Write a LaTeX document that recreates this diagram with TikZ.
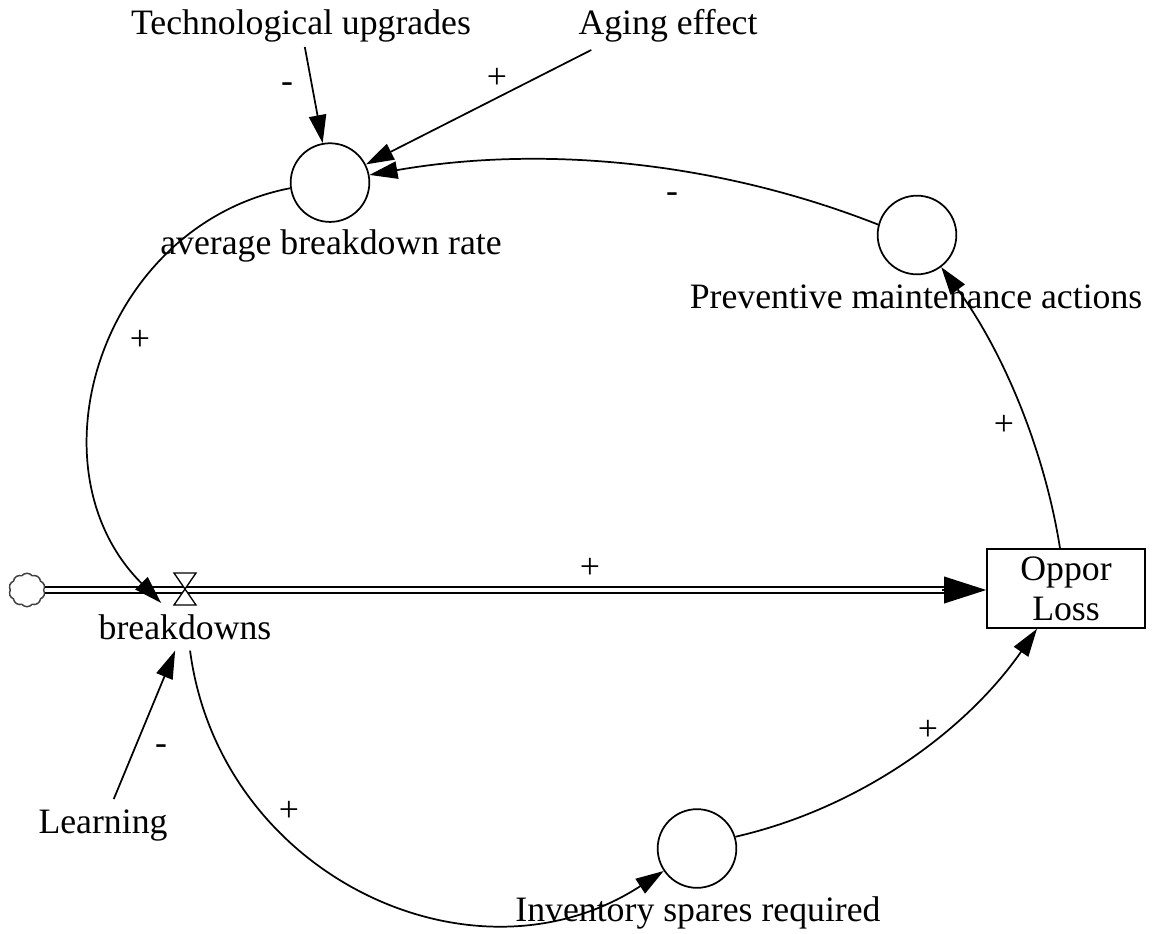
\documentclass[tikz,border=0pt]{standalone}
\usepackage{fontspec}
\setmainfont{Liberation Serif}
\usetikzlibrary{arrows.meta,shapes.symbols,calc}
\begin{document}
\begin{tikzpicture}[x=0.75pt,y=0.75pt,
  every node/.style={font=\fontsize{26.8}{30}\selectfont},
  lbl/.style={inner sep=0pt, anchor=base},
  sgn/.style={inner sep=0pt},
  aux/.style={circle, draw, line width=1.3pt, minimum size=59pt, inner sep=0pt, fill=white},
  stock/.style={rectangle, draw, line width=1.2pt, minimum width=118.5pt, minimum height=59.25pt, inner sep=0pt, align=center, fill=white},
  lnk/.style={line width=1.3pt, -{Triangle[length=21pt,width=13pt]}},
  pipe/.style={line width=1.4pt, double=white, double distance=3.7pt},
  src/.style={cloud, cloud puffs=10, cloud puff arc=100, draw=black!75, line width=1pt, fill=white,
      minimum width=27pt, minimum height=25pt, inner sep=0pt},
  ]
\useasboundingbox (0,0) rectangle (1152,-934);

% nodes
\node[aux] (avg) at (330,-182.6) {};
\node[lbl] (avgl) at (331,-255) {average breakdown rate};
\node[aux] (pm) at (917,-235) {};
\node[lbl] (pml) at (916,-308) {Preventive maintenance actions};
\node[aux] (inv) at (697,-848.5) {};
\node[lbl] (invl) at (698,-921) {Inventory spares required};
\node[lbl, inner sep=3pt] (tu) at (301,-35) {Technological upgrades};
\node[lbl] (ae) at (668,-35) {Aging effect};
\node[lbl, inner sep=7.5pt] (lr) at (103,-833) {Learning};
\node[lbl, inner sep=8.25pt] (bd) at (185,-639) {breakdowns};
\node[src] (cl) at (27,-590) {};
\node[stock] (loss) at (1066,-588.5) {Oppor\\Loss};
\coordinate (valve) at (185,-590);

% flow pipe
\draw[pipe] (cl.east) -- ($(cl.east -| loss.west)+(-40,0)$);
\draw[line width=1pt, -{Triangle[length=31.5pt,width=20pt]}] ($(cl.east -| loss.west)+(-44,0)$) -- (cl.east -| loss.west);
\draw[line width=1pt, fill=white] ($(valve)+(-11,17)$) -- ($(valve)+(11,17)$) -- ($(valve)+(-11,-15)$) -- ($(valve)+(11,-15)$) -- cycle;
\node[src] at (cl) {};

% links
\draw[lnk] (tu) -- (avg);
\draw[lnk] ($(ae.base west)+(13,-15)$) -- (avg);
\draw[lnk] (pm.165) .. controls +(158.5:174) and +(9.9:174) .. (avg.11);
\draw[lnk] (avg.188) .. controls +(191:192) and +(135:192) .. (bd.135);
\draw[lnk] (lr) -- (bd);
\draw[lnk] (bd.282) .. controls +(277.5:227) and +(213:227) .. (inv.214);
\draw[lnk] (inv.17) .. controls +(12.9:126) and +(235.2:126) .. ($(loss.south)+(-29,0)$);
\draw[lnk] ($(loss.north)+(-6,0)$) .. controls +(99:102) and +(306.4:102) .. (pm.307);

% polarity signs
\node[sgn] at (287,-88) {-};
\node[sgn] at (497,-78) {+};
\node[sgn] at (672,-198) {-};
\node[sgn] at (140,-340) {+};
\node[sgn] at (590,-568) {+};
\node[sgn] at (1004,-425) {+};
\node[sgn] at (161,-750) {-};
\node[sgn] at (289,-811) {+};
\node[sgn] at (928,-730) {+};
\end{tikzpicture}
\end{document}
